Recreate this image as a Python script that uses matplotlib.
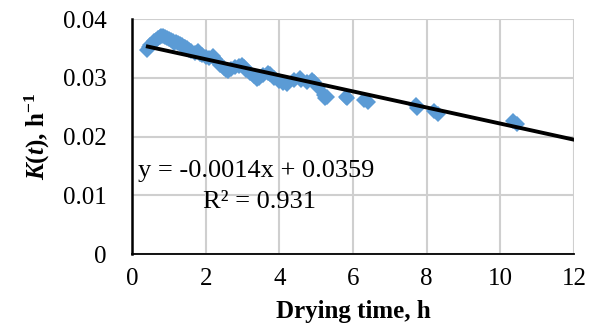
import matplotlib
matplotlib.use("Agg")
import matplotlib.pyplot as plt
import numpy as np

# drying time (h) and K(t) (1/h)
time_h = [0.40, 0.45, 0.50, 0.55, 0.60, 0.65, 0.70, 0.75, 0.80, 0.85,
          0.90, 0.95, 1.00, 1.05, 1.10, 1.15, 1.20, 1.25, 1.30, 1.35,
          1.40, 1.45, 1.50, 1.55, 1.60, 1.70, 1.80, 1.85, 1.90, 2.00,
          2.10, 2.20, 2.25, 2.30, 2.40, 2.50, 2.55, 2.60, 2.70, 2.80,
          2.90, 3.00, 3.05, 3.10, 3.20, 3.30, 3.40, 3.45, 3.55, 3.70,
          3.75, 3.85, 4.00, 4.10, 4.20, 4.40, 4.55, 4.60, 4.75, 4.90,
          4.95, 5.05, 5.20, 5.25, 5.30, 5.80, 5.85, 6.30, 6.40, 7.70,
          7.75, 8.20, 8.30, 10.35, 10.45]
k_t = [0.0348, 0.0352, 0.0355, 0.0358, 0.0362, 0.0365, 0.0368, 0.0370, 0.0371, 0.0371,
       0.0370, 0.0368, 0.0366, 0.0364, 0.0362, 0.0360, 0.0361, 0.0360, 0.0357, 0.0355,
       0.0353, 0.0352, 0.0350, 0.0348, 0.0346, 0.0343, 0.0345, 0.0341, 0.0338, 0.0336,
       0.0333, 0.0337, 0.0332, 0.0328, 0.0322, 0.0317, 0.0313, 0.0312, 0.0315, 0.0318,
       0.0320, 0.0322, 0.0318, 0.0313, 0.0308, 0.0303, 0.0298, 0.0300, 0.0304, 0.0308,
       0.0306, 0.0300, 0.0295, 0.0291, 0.0290, 0.0296, 0.0300, 0.0296, 0.0293, 0.0297,
       0.0293, 0.0285, 0.0270, 0.0266, 0.0268, 0.0268, 0.0265, 0.0263, 0.0258, 0.0253,
       0.0248, 0.0243, 0.0238, 0.0226, 0.0221]

# linear trendline as drawn
slope = -0.00137
intercept = 0.0359
trend_x = [0.43, 12]

x_ticks = [0, 2, 4, 6, 8, 10, 12]
y_ticks = [0, 0.01, 0.02, 0.03, 0.04]
y_tick_labels = ["0", "0.01", "0.02", "0.03", "0.04"]

plt.rcParams["font.family"] = ["Liberation Serif", "DejaVu Serif"]
plt.rcParams["mathtext.fontset"] = "custom"
plt.rcParams["mathtext.rm"] = "Liberation Serif:bold"
plt.rcParams["mathtext.bf"] = "Liberation Serif:bold"
plt.rcParams["mathtext.it"] = "Liberation Serif:italic:bold"

fig = plt.figure(figsize=(5.9, 3.28), dpi=100)
ax = fig.add_axes([0.2237, 0.2256, 0.9729 - 0.2237, 0.942 - 0.2256])

ax.plot(time_h, k_t, linestyle="none", marker="D", markersize=8,
        color="#5B9BD5", markeredgewidth=0, zorder=3)
tx = np.array(trend_x)
ax.plot(tx, slope * tx + intercept, color="black", linewidth=2.8, zorder=4)

ax.set_xlim(0, 12)
ax.set_ylim(0, 0.04)
ax.set_xticks(x_ticks)
ax.set_yticks(y_ticks)
ax.set_yticklabels(y_tick_labels)
ax.tick_params(axis="both", length=0, labelsize=18)
ax.tick_params(axis="x", pad=10)
ax.tick_params(axis="y", pad=18)

ax.grid(visible=True, color="#cfcfcf", linewidth=1.5)
ax.set_axisbelow(True)

for side in ["top", "right"]:
    ax.spines[side].set_visible(False)
ax.spines["left"].set_linewidth(1.8)
ax.spines["bottom"].set_linewidth(1.3)

ax.set_xlabel("Drying time, h", fontsize=18, fontweight="bold", labelpad=7)
ax.set_ylabel(r"$\mathit{K}\mathrm{(}\mathit{t}\mathrm{),\,h}^{\mathrm{-1}}$",
              fontsize=18, labelpad=8)

ax.text(0.15, 0.0141, "y = -0.0014x + 0.0359", fontsize=19, va="center")
ax.text(1.93, 0.0088, "R² = 0.931", fontsize=19, va="center")

fig.savefig("out.png", dpi=100)
